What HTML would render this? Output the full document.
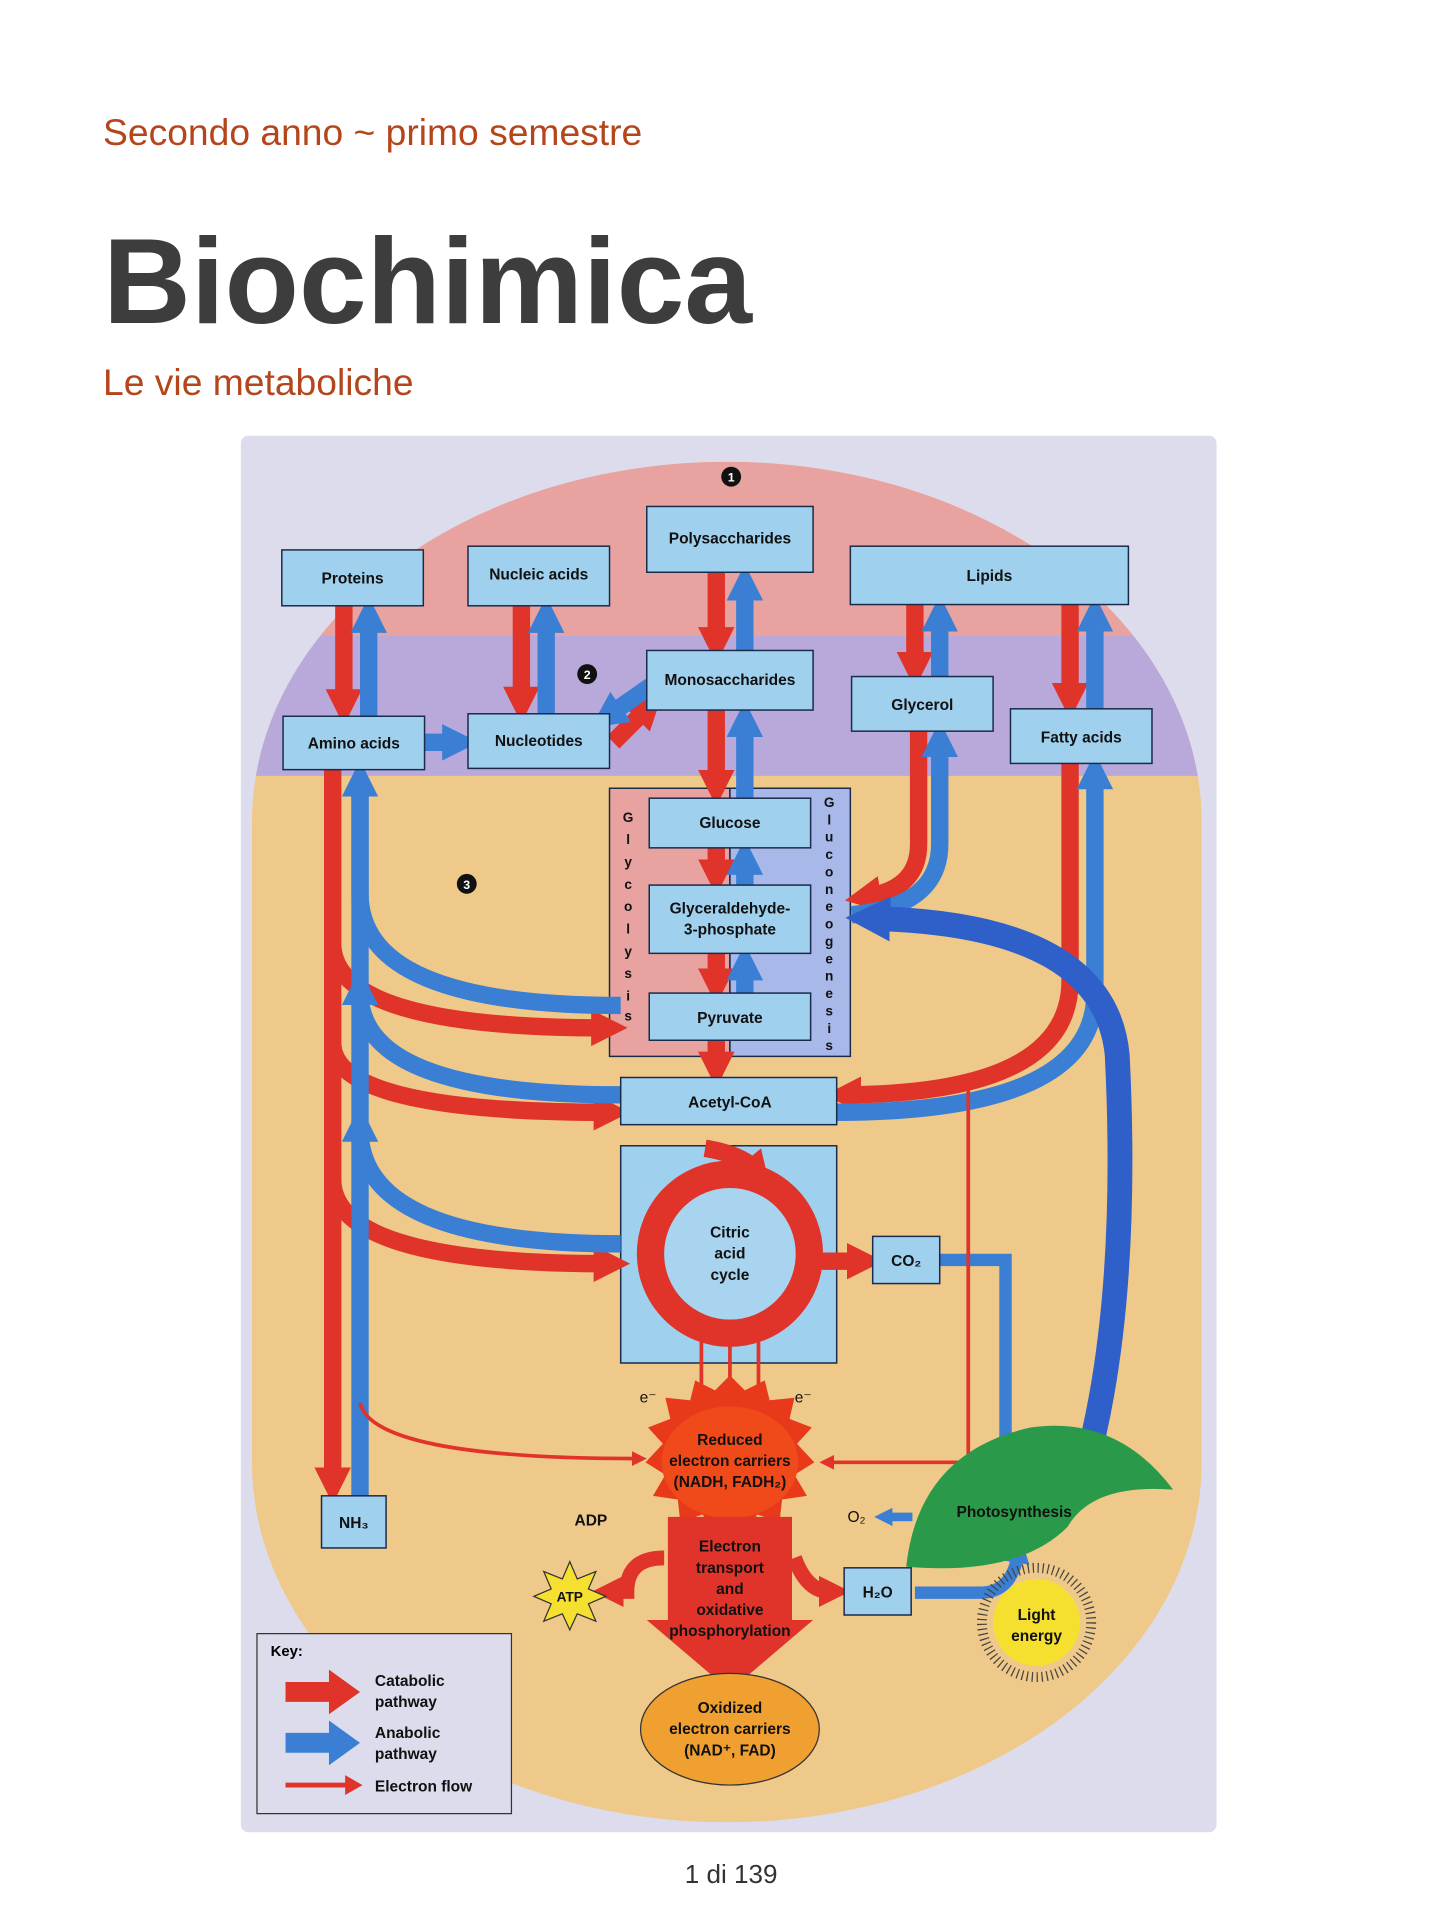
<!DOCTYPE html>
<html><head><meta charset="utf-8"><style>
html,body{margin:0;padding:0;background:#fff;}
svg{display:block}
</style></head><body>
<svg width="1440" height="1920" viewBox="0 0 1160 1546.7" xmlns="http://www.w3.org/2000/svg" font-family="Liberation Sans, sans-serif">
<defs>
<marker id="r" viewBox="0 0 3 3" markerWidth="2.1" markerHeight="2.1" refX="1" refY="1.5" orient="auto"><path d="M0,0 L3,1.5 L0,3 z" fill="#e0332a"/></marker>
<marker id="b" viewBox="0 0 3 3" markerWidth="2.1" markerHeight="2.1" refX="1" refY="1.5" orient="auto"><path d="M0,0 L3,1.5 L0,3 z" fill="#3a7fd4"/></marker>
<marker id="bb" viewBox="0 0 3 3" markerWidth="1.8" markerHeight="1.8" refX="1" refY="1.5" orient="auto"><path d="M0,0 L3,1.5 L0,3 z" fill="#2f5fc8"/></marker>
<marker id="rt" markerWidth="4" markerHeight="4" refX="2" refY="2" orient="auto"><path d="M0,0 L4,2 L0,4 z" fill="#e0332a"/></marker>
<clipPath id="oval"><rect x="203" y="372" width="765" height="1096" rx="383" ry="290"/></clipPath>
</defs>
<text x="83" y="117" font-size="30" fill="#b5451b">Secondo anno ~ primo semestre</text>
<text x="83" y="260" font-size="98" font-weight="bold" fill="#3d3d3d">Biochimica</text>
<text x="83" y="318" font-size="30" fill="#b5451b">Le vie metaboliche</text>

<rect x="194" y="351" width="786" height="1125" rx="6" fill="#dcdcec"/>
<g clip-path="url(#oval)">
<rect x="203" y="372" width="765" height="1096" fill="#efc98a"/>
<rect x="203" y="372" width="765" height="140" fill="#e8a3a0"/>
<rect x="203" y="512" width="765" height="113" fill="#b9a9da"/>
</g>

<g stroke="#1a2a4a" stroke-width="1.2" fill="#9fd0ee">
<rect x="491" y="635" width="97" height="216" fill="#e8a3a0"/>
<rect x="588" y="635" width="97" height="216" fill="#a8b8e8"/>
<rect x="500" y="923" width="174" height="175"/>
</g>

<g fill="none" stroke-width="14">
<g stroke="#e0332a" marker-end="url(#r)">
<path d="M577 461 V515"/><path d="M577 572 V630"/><path d="M577 683 V702"/><path d="M577 768 V790"/><path d="M577 838 V857"/>
<path d="M277 488 V565"/><path d="M420 488 V563"/><path d="M737 487 V535"/><path d="M862 487 V560"/>
<path d="M494 598 L520 572"/>
<path d="M740 589 V680 Q740 715 700 722"/>
<path d="M862 615 V790 Q862 880 684 882"/>
<path d="M268 620 V1192"/>
<path d="M268 760 Q268 828 486 828"/>
<path d="M268 840 Q268 896 488 896"/>
<path d="M268 950 Q268 1018 488 1018"/>
<path d="M662 1016 H692"/>
</g>
<g stroke="#3a7fd4" marker-end="url(#b)">
<path d="M600 524 V474"/><path d="M600 643 V584"/><path d="M600 713 V695"/><path d="M600 800 V780"/>
<path d="M297 577 V500"/><path d="M440 575 V500"/><path d="M757 545 V499"/><path d="M882 571 V499"/>
<path d="M342 598 H366"/>
<path d="M525 552 L492 575"/>
<path d="M686 737 Q757 730 757 680 V600"/>
<path d="M674 896 Q882 896 882 800 V626"/>
<path d="M500 810 Q290 810 290 720 V632"/>
<path d="M500 882 Q290 882 290 800"/>
<path d="M500 1002 Q290 1002 290 910"/>
<path d="M290 1205 V632" marker-end="none"/>
<path d="M757 1015 H810 V1192" stroke-width="10"/>
<path d="M737 1283 H790 Q815 1283 820 1252" stroke-width="10"/>
<path d="M735 1222 H714" stroke-width="7"/>
</g>
<path d="M875 1180 Q910 1050 900 850 Q890 745 705 740" stroke="#2f5fc8" stroke-width="20" marker-end="url(#bb)"/>
<g stroke="#e0332a" stroke-width="3" marker-end="url(#rt)">
<path d="M565 1080 V1132"/><path d="M588 1080 V1132"/><path d="M611 1080 V1132"/>
<path d="M780 870 V1178 H666"/>
<path d="M290 1130 Q300 1175 515 1175"/>
</g>
<path d="M535 1255 Q505 1255 505 1282 L494 1282" stroke="#e0332a" stroke-width="12" marker-end="url(#r)"/>
<path d="M640 1255 Q650 1282 668 1282" stroke="#e0332a" stroke-width="12" marker-end="url(#r)"/>
</g>

<circle cx="588" cy="1010" r="64" fill="#a8d4f0" stroke="#e0332a" stroke-width="22"/>
<path d="M568 925 Q598 930 608 942" stroke="#e0332a" stroke-width="14" fill="none" marker-end="url(#r)"/>

<g stroke="#1a2a4a" stroke-width="1.2" fill="#9fd0ee">
<rect x="521" y="408" width="134" height="53"/>
<rect x="227" y="443" width="114" height="45"/>
<rect x="377" y="440" width="114" height="48"/>
<rect x="685" y="440" width="224" height="47"/>
<rect x="521" y="524" width="134" height="48"/>
<rect x="686" y="545" width="114" height="44"/>
<rect x="814" y="571" width="114" height="44"/>
<rect x="228" y="577" width="114" height="43"/>
<rect x="377" y="575" width="114" height="44"/>
<rect x="523" y="643" width="130" height="40"/>
<rect x="523" y="713" width="130" height="55"/>
<rect x="523" y="800" width="130" height="38"/>
<rect x="500" y="868" width="174" height="38"/>
<rect x="703" y="996" width="54" height="38"/>
<rect x="259" y="1205" width="52" height="42"/>
<rect x="680" y="1263" width="54" height="38"/>
</g>

<path d="M730 1262 Q740 1170 830 1150 Q900 1140 945 1200 Q880 1195 860 1230 Q820 1270 730 1262z" fill="#2a9a4a"/>
<circle cx="835" cy="1307" r="44" fill="none" stroke="#444" stroke-width="8" stroke-dasharray="1 3"/>
<circle cx="835" cy="1307" r="35" fill="#f5e030"/>
<polygon points="588,1108 600,1120 616,1112 620,1128 640,1126 636,1143 654,1150 642,1163 656,1178 640,1188 650,1205 630,1208 628,1226 610,1220 600,1236 588,1225 576,1236 566,1220 548,1226 546,1208 526,1205 536,1188 520,1178 534,1163 522,1150 540,1143 536,1126 556,1128 560,1112 576,1120" fill="#e83a1a"/>
<ellipse cx="588" cy="1178" rx="55" ry="45" fill="#f04a1a"/>
<polygon points="538,1222 638,1222 638,1305 655,1305 588,1362 521,1305 538,1305" fill="#e0332a"/>
<ellipse cx="588" cy="1393" rx="72" ry="45" fill="#f0a030" stroke="#333"/>
<polygon points="459,1258 465,1272 480,1266 474,1280 488,1286 474,1292 480,1306 465,1300 459,1313 453,1300 438,1306 444,1292 430,1286 444,1280 438,1266 453,1272" fill="#f5e030" stroke="#333"/>

<rect x="207" y="1316" width="205" height="145" fill="#dcdcec" stroke="#333"/>
<text x="218" y="1334" font-size="12" font-weight="bold">Key:</text>
<polygon points="230,1355 265,1355 265,1345 290,1363 265,1381 265,1371 230,1371" fill="#e0332a"/>
<polygon points="230,1396 265,1396 265,1386 290,1404 265,1422 265,1412 230,1412" fill="#3a7fd4"/>
<path d="M230 1438 H280" stroke="#e0332a" stroke-width="4"/><polygon points="278,1430 292,1438 278,1446" fill="#e0332a"/>

<g font-size="12.5" font-weight="bold" fill="#111" text-anchor="middle">
<text x="588" y="438">Polysaccharides</text>
<text x="284" y="470">Proteins</text>
<text x="434" y="467">Nucleic acids</text>
<text x="797" y="468">Lipids</text>
<text x="588" y="552">Monosaccharides</text>
<text x="743" y="572">Glycerol</text>
<text x="871" y="598">Fatty acids</text>
<text x="285" y="603">Amino acids</text>
<text x="434" y="601">Nucleotides</text>
<text x="588" y="667">Glucose</text>
<text x="588" y="736">Glyceraldehyde-</text>
<text x="588" y="753">3-phosphate</text>
<text x="588" y="824">Pyruvate</text>
<text x="588" y="892">Acetyl-CoA</text>
<text x="588" y="997">Citric</text>
<text x="588" y="1014">acid</text>
<text x="588" y="1031">cycle</text>
<text x="730" y="1020">CO₂</text>
<text x="285" y="1231">NH₃</text>
<text x="707" y="1287">H₂O</text>
<text x="476" y="1229">ADP</text>
<text x="459" y="1290" font-size="11">ATP</text>
<text x="690" y="1226" font-weight="normal">O₂</text>
<text x="817" y="1222">Photosynthesis</text>
<text x="835" y="1305">Light</text>
<text x="835" y="1322">energy</text>
<text x="588" y="1164">Reduced</text>
<text x="588" y="1181">electron carriers</text>
<text x="588" y="1198">(NADH, FADH₂)</text>
<text x="588" y="1250">Electron</text>
<text x="588" y="1267">transport</text>
<text x="588" y="1284">and</text>
<text x="588" y="1301">oxidative</text>
<text x="588" y="1318">phosphorylation</text>
<text x="588" y="1380">Oxidized</text>
<text x="588" y="1397">electron carriers</text>
<text x="588" y="1414">(NAD⁺, FAD)</text>
<text x="522" y="1130" font-weight="normal">e⁻</text>
<text x="647" y="1130" font-weight="normal">e⁻</text>
</g>
<g font-size="12.5" font-weight="bold" fill="#111">
<text x="302" y="1358">Catabolic</text><text x="302" y="1375">pathway</text>
<text x="302" y="1400">Anabolic</text><text x="302" y="1417">pathway</text>
<text x="302" y="1443">Electron flow</text>
</g>
<g font-size="11" font-weight="bold" fill="#111" text-anchor="middle">
<text x="506" y="662">G</text><text x="506" y="680">l</text><text x="506" y="698">y</text><text x="506" y="716">c</text><text x="506" y="734">o</text><text x="506" y="752">l</text><text x="506" y="770">y</text><text x="506" y="788">s</text><text x="506" y="806">i</text><text x="506" y="822">s</text>
<text x="668" y="650">G</text><text x="668" y="664">l</text><text x="668" y="678">u</text><text x="668" y="692">c</text><text x="668" y="706">o</text><text x="668" y="720">n</text><text x="668" y="734">e</text><text x="668" y="748">o</text><text x="668" y="762">g</text><text x="668" y="776">e</text><text x="668" y="790">n</text><text x="668" y="804">e</text><text x="668" y="818">s</text><text x="668" y="832">i</text><text x="668" y="846">s</text>
</g>
<g fill="#111"><circle cx="589" cy="384" r="8"/><circle cx="473" cy="543" r="8"/><circle cx="376" cy="712" r="8"/></g>
<g fill="#fff" font-size="10" font-weight="bold" text-anchor="middle"><text x="589" y="388">1</text><text x="473" y="547">2</text><text x="376" y="716">3</text></g>

<text x="589" y="1517" font-size="21" fill="#333" text-anchor="middle">1 di 139</text>
</svg>
</body></html>
